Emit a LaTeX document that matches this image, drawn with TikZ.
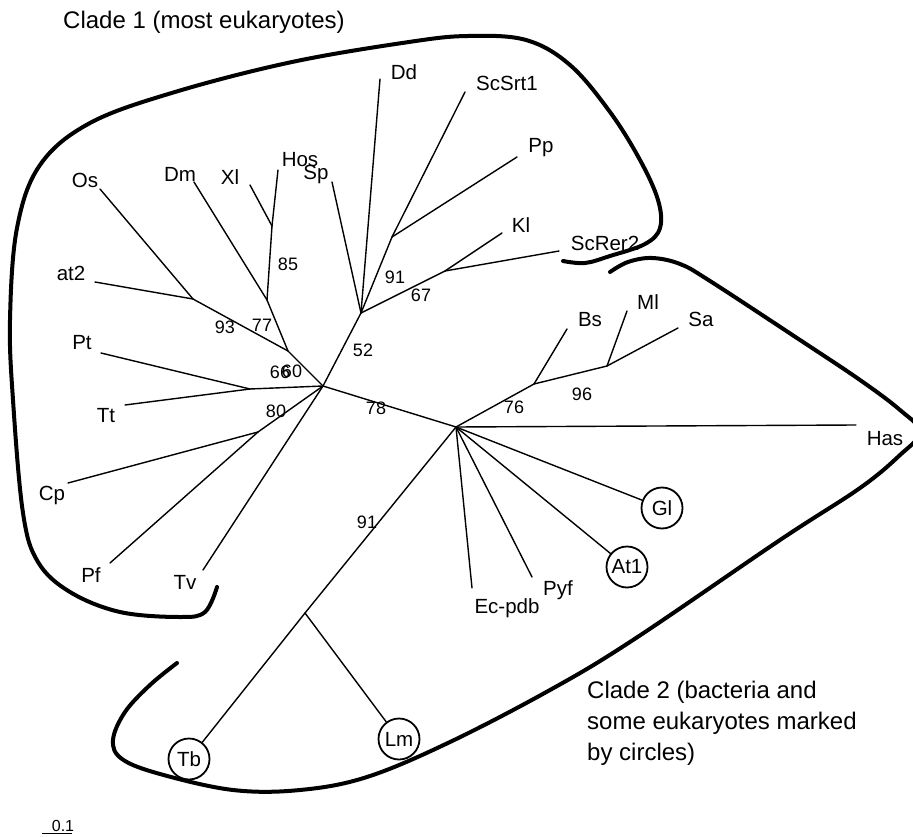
\documentclass[tikz,border=0pt]{standalone}
\usepackage{fontspec}
\setmainfont{Liberation Sans}
\begin{document}
\begin{tikzpicture}[x=1pt,y=-1pt,
  branch/.style={line width=1.4pt, line cap=round},
  clade/.style={line width=4pt, line cap=round, line join=round},
  leaf/.style={inner sep=0pt, font=\fontsize{20.5}{24}\selectfont},
  boot/.style={inner sep=0pt, font=\fontsize{18}{20}\selectfont},
  ring/.style={circle, draw, line width=1.8pt, inner sep=0pt, minimum size=41pt, font=\fontsize{20.5}{24}\selectfont},
  cladetext/.style={inner sep=0pt, font=\fontsize{24}{31}\selectfont, align=left}]
\useasboundingbox (0,0) rectangle (913,837);

% ---------- internal nodes ----------
\coordinate (C)    at (323,386);
\coordinate (R)    at (456,427);
\coordinate (n52)  at (361,313);
\coordinate (n91a) at (392,237);
\coordinate (n67)  at (445,271);
\coordinate (n60)  at (288,351);
\coordinate (n77)  at (267,300);
\coordinate (n85)  at (272,226);
\coordinate (n93)  at (193,299);
\coordinate (nPT)  at (250,389);
\coordinate (n80)  at (258,432);
\coordinate (n76)  at (534,384);
\coordinate (n96)  at (607,366);
\coordinate (n91b) at (305,613);

% ---------- leaf ends ----------
\coordinate (eSp)  at (332,182);
\coordinate (eDd)  at (380,79);
\coordinate (eScS) at (465,92);
\coordinate (ePp)  at (517,157);
\coordinate (eKl)  at (502,233);
\coordinate (eScR) at (559,251);
\coordinate (eDm)  at (194,182);
\coordinate (eXl)  at (250,185);
\coordinate (eHos) at (278,170);
\coordinate (eOs)  at (100,189);
\coordinate (eAt2) at (95,282);
\coordinate (ePt)  at (101,353);
\coordinate (eTt)  at (125,405);
\coordinate (eCp)  at (68,483);
\coordinate (ePf)  at (110,563);
\coordinate (eTv)  at (203,570);
\coordinate (eBs)  at (567,329);
\coordinate (eMl)  at (627,311);
\coordinate (eSa)  at (678,328);
\coordinate (eHas) at (856,425);
\coordinate (ePyf) at (532,577);
\coordinate (eEc)  at (472,588);

% ---------- leaf labels ----------
\node[leaf] (lOs)  at (85,180)  {Os};
\node[leaf] (lAt2) at (71,273)  {at2};
\node[leaf] (lPt)  at (82,343)  {Pt};
\node[leaf] (lTt)  at (106,416) {Tt};
\node[leaf] (lCp)  at (52,495)  {Cp};
\node[leaf] (lPf)  at (91,575)  {Pf};
\node[leaf] (lTv)  at (185,582) {Tv};
\node[leaf] (lDm)  at (180,174) {Dm};
\node[leaf] (lXl)  at (230,177) {Xl};
\node[leaf] (lHos) at (300,160) {Hos};
\node[leaf] (lSp)  at (316,174) {Sp};
\node[leaf] (lDd)  at (404,72)  {Dd};
\node[leaf] (lScS) at (507,83)  {ScSrt1};
\node[leaf] (lPp)  at (541,148) {Pp};
\node[leaf] (lKl)  at (521,225) {Kl};
\node[leaf] (lScR) at (605,243) {ScRer2};
\node[leaf] (lBs)  at (590,320) {Bs};
\node[leaf] (lMl)  at (648,302) {Ml};
\node[leaf] (lSa)  at (701,319) {Sa};
\node[leaf] (lHas) at (885,439) {Has};
\node[leaf] (lPyf) at (558,590) {Pyf};
\node[leaf] (lEc)  at (507,608) {Ec-pdb};
\node[ring] (Gl)   at (662,508) {Gl};
\node[ring] (At1)  at (627,567) {At1};
\node[ring] (Tb)   at (189,759) {Tb};
\node[ring] (Lm)   at (399,739) {Lm};

% ---------- branches ----------
\draw[branch] (C) -- (R);
\draw[branch] (C) -- (n52);
\draw[branch] (n52) -- (eSp);
\draw[branch] (n52) -- (eDd);
\draw[branch] (n52) -- (n91a);
\draw[branch] (n91a) -- (eScS);
\draw[branch] (n91a) -- (ePp);
\draw[branch] (n52) -- (n67);
\draw[branch] (n67) -- (eKl);
\draw[branch] (n67) -- (eScR);
\draw[branch] (C) -- (n60);
\draw[branch] (n60) -- (n77);
\draw[branch] (n77) -- (eDm);
\draw[branch] (n77) -- (n85);
\draw[branch] (n85) -- (eXl);
\draw[branch] (n85) -- (eHos);
\draw[branch] (n60) -- (n93);
\draw[branch] (n93) -- (eOs);
\draw[branch] (n93) -- (eAt2);
\draw[branch] (C) -- (nPT);
\draw[branch] (nPT) -- (ePt);
\draw[branch] (nPT) -- (eTt);
\draw[branch] (C) -- (n80);
\draw[branch] (n80) -- (eCp);
\draw[branch] (n80) -- (ePf);
\draw[branch] (C) -- (eTv);
\draw[branch] (R) -- (n76);
\draw[branch] (n76) -- (eBs);
\draw[branch] (n76) -- (n96);
\draw[branch] (n96) -- (eMl);
\draw[branch] (n96) -- (eSa);
\draw[branch] (R) -- (eHas);
\draw[branch] (R) -- (Gl);
\draw[branch] (R) -- (At1);
\draw[branch] (R) -- (ePyf);
\draw[branch] (R) -- (eEc);
\draw[branch] (R) -- (n91b);
\draw[branch] (n91b) -- (Tb);
\draw[branch] (n91b) -- (Lm);

% ---------- bootstrap values ----------
\node[boot] (b93)  at (225,327) {93};
\node[boot] (b77)  at (262,325) {77};
\node[boot] (b85)  at (288,264) {85};
\node[boot] (b52)  at (363,350) {52};
\node[boot] (b66)  at (280,372) {66};
\node[boot] (b60)  at (292,371) {60};
\node[boot] (b80)  at (276,411) {80};
\node[boot] (b78)  at (376,408) {78};
\node[boot] (b91a) at (395,277) {91};
\node[boot] (b67)  at (421,295) {67};
\node[boot] (b76)  at (514,407) {76};
\node[boot] (b96)  at (582,394) {96};
\node[boot] (b91b) at (367,522) {91};

% ---------- clade outlines ----------
\draw[clade] plot[smooth, tension=0.6] coordinates {
  (217,587) (205,612) (180,617) (120,612) (70,592) (38,562) (23,513)
  (13,400) (10,320) (17,228) (40,165) (90,123) (175,92) (292,62)
  (409,42) (468,36) (526,40) (570,65) (610,112) (640,160) (658,200)
  (660,228) (645,244) (610,256) (585,263) (563,261)};
\draw[clade] plot[smooth, tension=0.6] coordinates {
  (610,272) (628,262) (652,258) (680,264) (710,281) (800,340) (860,380)
  (900,410) (920,432) (900,455) (860,488) (780,540) (633,640) (550,690)
  (450,742) (367,777) (300,790) (233,790) (160,774) (122,759) (113,740)
  (125,712) (150,685) (177,663)};

% ---------- clade captions ----------
\node[cladetext, anchor=west] (cap1) at (63,22) {Clade 1 (most eukaryotes)};
\node[cladetext, anchor=north west] (cap2) at (587,681)
  {Clade 2 (bacteria and\\some eukaryotes marked\\by circles)};

% ---------- scale bar ----------
\coordinate (sbL) at (42,833);
\coordinate (sbR) at (72,833);
\draw[line width=1pt] (sbL) -- (sbR);
\node[inner sep=0pt, font=\fontsize{16}{18}\selectfont, anchor=base] (sbT) at (63,831) {0.1};
\end{tikzpicture}
\end{document}
